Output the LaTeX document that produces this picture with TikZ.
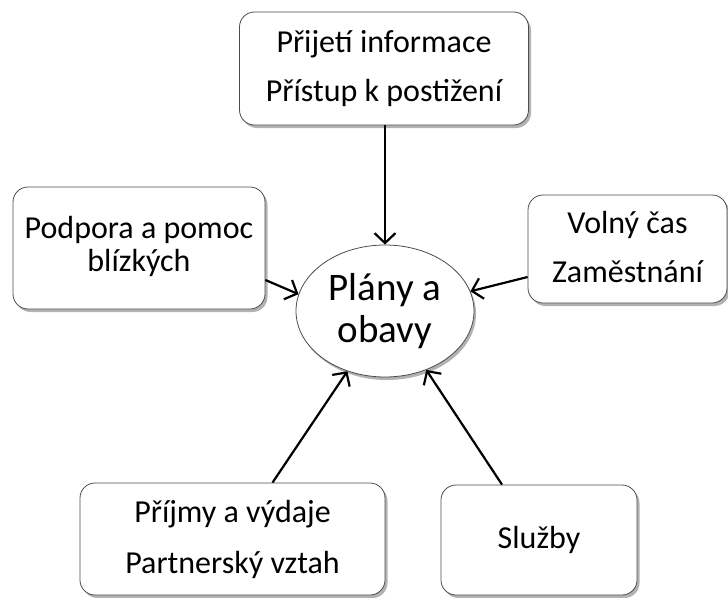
\documentclass[tikz,border=0pt]{standalone}
\usepackage{fontspec}
\setmainfont{Carlito}
\usetikzlibrary{arrows.meta,shadows,shapes.geometric}
\begin{document}
\begin{tikzpicture}[x=1pt,y=-1pt,
  box/.style={draw=gray!60!black, line width=0.8pt, fill=white, rounded corners=15pt,
    inner sep=0pt, align=center,
    drop shadow={shadow xshift=2.5pt, shadow yshift=-3pt, opacity=0.3, fill=black}},
  boxfont/.style={font=\fontsize{32}{49}\selectfont},
  ell/.style={draw=gray!60!black, line width=0.8pt, fill=white, ellipse, inner sep=0pt,
    minimum width=178pt, minimum height=132pt, align=center,
    font=\fontsize{39}{42}\selectfont,
    drop shadow={shadow xshift=2pt, shadow yshift=-3pt, opacity=0.3, fill=black}},
  conn/.style={line width=2.2pt, -{Straight Barb[length=10pt,width=21pt,line width=2.2pt]}}]
\useasboundingbox (0,0) rectangle (728,597);

\node[ell] (plan) at (385,311) {Plány a\\obavy};

\node[box, boxfont, minimum width=289pt, minimum height=113pt] (info) at (384,68.5)
  {Přijetí informace\\Přístup k postižení\rule[-4pt]{0pt}{1pt}};
\node[box, font=\fontsize{32}{33}\selectfont, minimum width=252pt, minimum height=122pt] (podp) at (139,248)
  {Podpora a pomoc\\blízkých\rule[-8pt]{0pt}{1pt}};
\node[box, boxfont, minimum width=199pt, minimum height=108pt] (volny) at (627.5,249)
  {Volný čas\\Zaměstnání\rule[-5pt]{0pt}{1pt}};
\node[box, font=\fontsize{32}{51}\selectfont, minimum width=305pt, minimum height=112pt] (prijmy) at (232.5,539)
  {Příjmy a výdaje\\Partnerský vztah\rule[-5pt]{0pt}{1pt}};
\node[box, boxfont, minimum width=196pt, minimum height=110pt] (sluzby) at (539,540)
  {Služby\rule[-6pt]{0pt}{1pt}};

\draw[conn] ([xshift=1pt]info.south) -- (plan.north);
\draw[conn] ([yshift=-32pt]podp.east) -- (plan.169);
\draw[conn] ([yshift=-28pt]volny.west) -- (plan.13.6);
\draw[conn] ([xshift=40pt]prijmy.north) -- (plan.-122.8);
\draw[conn] ([xshift=-37pt]sluzby.north) -- (plan.-55.9);
\end{tikzpicture}
\end{document}
